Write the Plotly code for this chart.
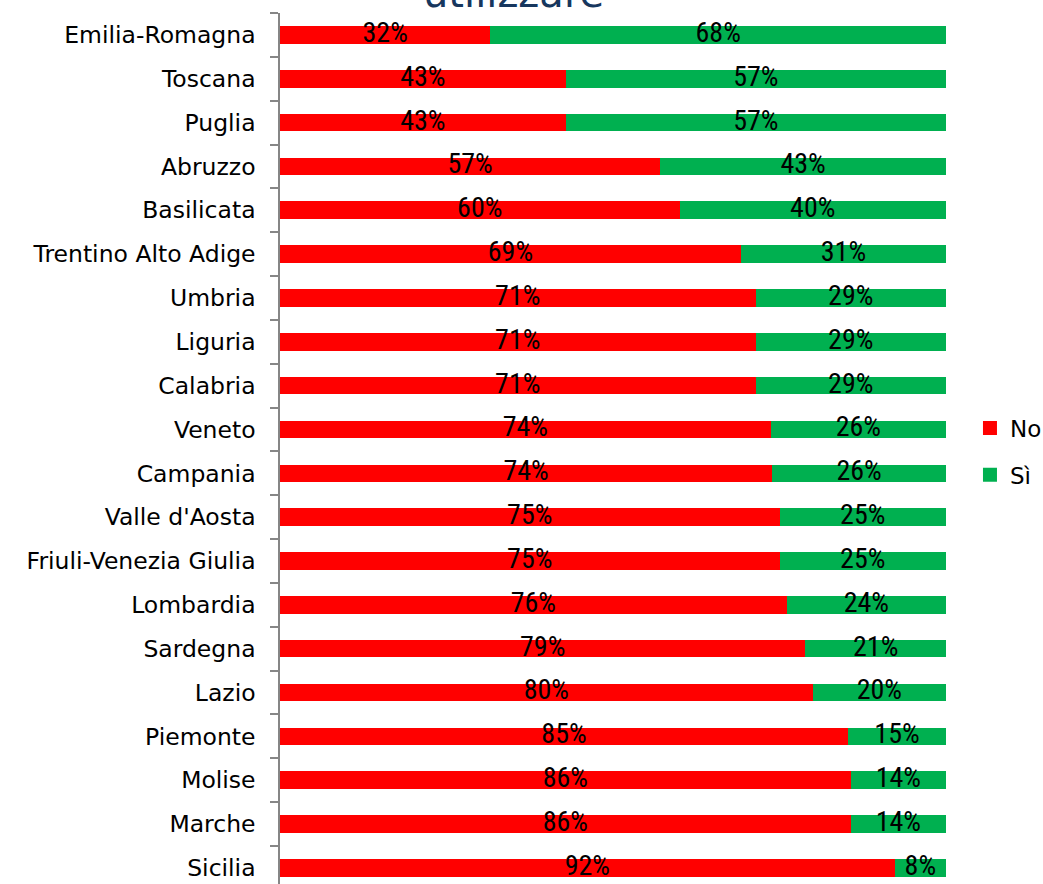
import plotly.graph_objects as go

regions = ["Emilia-Romagna", "Toscana", "Puglia", "Abruzzo", "Basilicata",
           "Trentino Alto Adige", "Umbria", "Liguria", "Calabria", "Veneto",
           "Campania", "Valle d'Aosta", "Friuli-Venezia Giulia", "Lombardia",
           "Sardegna", "Lazio", "Piemonte", "Molise", "Marche", "Sicilia"]
no_vals = [31.6, 42.9, 42.9, 57.1, 60.0, 69.2, 71.4, 71.4, 71.4, 73.7,
           73.9, 75.0, 75.0, 76.1, 78.9, 80.0, 85.3, 85.7, 85.7, 92.3]
si_vals = [68.4, 57.1, 57.1, 42.9, 40.0, 30.8, 28.6, 28.6, 28.6, 26.3,
           26.1, 25.0, 25.0, 23.9, 21.1, 20.0, 14.7, 14.3, 14.3, 7.7]
series_names = ["No", "Sì"]
title_text = "utilizzare"

RED = "#FF0000"
GREEN = "#00B050"

fig = go.Figure()
fig.add_trace(go.Bar(y=regions, x=no_vals, orientation="h", name=series_names[0],
                     marker=dict(color=RED, line=dict(width=0)),
                     showlegend=False, hoverinfo="skip"))
fig.add_trace(go.Bar(y=regions, x=si_vals, orientation="h", name=series_names[1],
                     marker=dict(color=GREEN, line=dict(width=0)),
                     showlegend=False, hoverinfo="skip"))

label_font = dict(family="Liberation Sans Narrow, Roboto Condensed, Roboto", size=28, color="black")
fig.add_trace(go.Scatter(
    y=regions, x=[v / 2 for v in no_vals], mode="text",
    text=[f"{round(v)}%" for v in no_vals], textposition="middle center",
    textfont=label_font, showlegend=False, hoverinfo="skip", cliponaxis=False))
fig.add_trace(go.Scatter(
    y=regions, x=[n + s / 2 for n, s in zip(no_vals, si_vals)], mode="text",
    text=[f"{round(v)}%" for v in si_vals], textposition="middle center",
    textfont=label_font, showlegend=False, hoverinfo="skip", cliponaxis=False))

# legend entries (square markers)
for name, col, grp in [(series_names[0], RED, "no"), (series_names[1], GREEN, "si")]:
    fig.add_trace(go.Scatter(x=[None], y=[None], mode="markers", name=name,
                             marker=dict(symbol="square", size=14, color=col,
                                         line=dict(width=0)),
                             legendgroup=grp, showlegend=True, hoverinfo="skip"))

fig.update_layout(
    width=1043, height=884,
    margin=dict(l=280, r=97, t=13, b=0, autoexpand=False),
    barmode="stack", bargap=0.6,
    paper_bgcolor="white", plot_bgcolor="white",
    font=dict(family="DejaVu Sans", size=23, color="black"),
    xaxis=dict(range=[0, 100], showticklabels=False, showgrid=False,
               zeroline=False, showline=False, ticks=""),
    yaxis=dict(type="category", categoryorder="array", categoryarray=regions,
               range=[19.37, -0.5], showgrid=False, zeroline=False,
               showline=True, linecolor="#868686", linewidth=1.5,
               ticks="outside", tickson="boundaries", ticklen=8,
               tickcolor="#868686", tickwidth=1.5, ticklabelstandoff=18,
               tickfont=dict(family="DejaVu Sans", size=23.5, color="black")),
    legend=dict(x=1.036, xanchor="left", y=0.4966, yanchor="middle",
                font=dict(family="DejaVu Sans", size=23, color="black"),
                tracegroupgap=14, itemwidth=30, bgcolor="rgba(0,0,0,0)"),
    showlegend=True,
    annotations=[dict(text=title_text, xref="paper", yref="paper",
                      x=0.35, y=1.0, xanchor="center", yanchor="bottom",
                      showarrow=False, yshift=-5,
                      font=dict(family="DejaVu Sans", size=40, color="#17375E"))],
)

fig.write_html("out.html", config={"displayModeBar": False},
               post_script="document.body.style.margin='0';"
                           "document.body.style.overflow='hidden';")
